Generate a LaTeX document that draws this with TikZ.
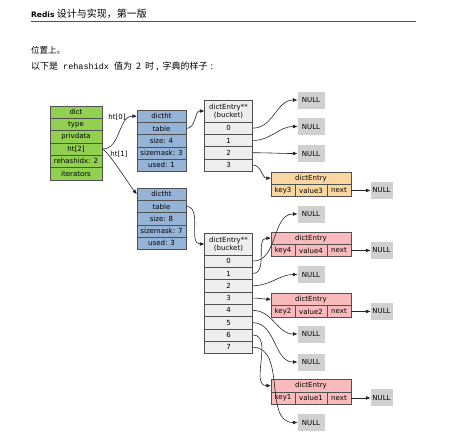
\documentclass[tikz,border=0pt]{standalone}
\usepackage{fontspec}
\setmainfont{DejaVu Sans}
\setmonofont{Liberation Mono}
\newfontfamily\cjk{Noto Sans CJK SC}
\usepackage{tikz}
\usetikzlibrary{arrows.meta, positioning, calc}

\definecolor{dictgreen}{RGB}{146,208,80}
\definecolor{htblue}{RGB}{149,179,215}
\definecolor{bucketgray}{RGB}{238,238,238}
\definecolor{nullgray}{RGB}{208,208,208}
\definecolor{entryorange}{RGB}{250,214,160}
\definecolor{entrypink}{RGB}{248,186,186}
\definecolor{linegray}{RGB}{80,80,80}

\tikzset{
  cell/.style={draw=linegray, line width=0.5pt, minimum height=12.3pt, inner sep=0pt, font=\fontsize{7}{8}\selectfont},
  dictcell/.style={cell, fill=dictgreen, minimum width=52pt},
  htcell/.style={cell, fill=htblue, minimum width=49pt},
  bucketcell/.style={cell, fill=bucketgray, minimum width=48pt},
  buckethead/.style={bucketcell, minimum height=22pt, align=center},
  nullbox/.style={fill=nullgray, minimum width=27pt, minimum height=17pt, inner sep=0pt, font=\fontsize{7}{8}\selectfont},
  ptr/.style={-{Triangle[length=4.5pt, width=3.5pt]}, line width=0.6pt, black!85},
  edgelabel/.style={font=\fontsize{7}{8}\selectfont},
}

\begin{document}
\begin{tikzpicture}[x=1pt, y=-1pt]
\useasboundingbox (0,0) rectangle (459,442);

% Page text
\node[anchor=west, inner sep=0pt] (title) at (31,14) {\fontsize{7.5}{9}\selectfont\textbf{Redis} {\cjk\fontsize{10}{11}\selectfont 设计与实现，第一版}};
\draw[linegray, line width=0.8pt] (31,21) -- (416,21);
\node[anchor=west, inner sep=0pt, font=\cjk\fontsize{8.5}{10}\selectfont] (para1) at (31,50) {位置上。};
\node[anchor=west, inner sep=0pt, font=\cjk\fontsize{9}{10}\selectfont] (para2) at (31,67) {以下是\hspace{5pt}{\fontsize{8.5}{10}\selectfont\texttt{rehashidx}}\hspace{5pt}值为\hspace{4pt}2\hspace{4pt}时\hspace{2pt},\hspace{4pt}字典的样子\hspace{3pt}:};

% dict
\foreach \txt [count=\i from 0] in {dict, type, privdata, ht[2], rehashidx: 2, iterators}
  \node[dictcell] (d\i) at (76, {112.15+12.3*\i}) {\txt};

% dictht
\foreach \txt [count=\i from 0] in {dictht, table, size: 4, sizemask: 3, used: 1}
  \node[htcell] (ha\i) at (161.5, {116.15+12.3*\i}) {\txt};
\foreach \txt [count=\i from 0] in {dictht, table, size: 8, sizemask: 7, used: 3}
  \node[htcell] (hb\i) at (161.5, {194.15+12.3*\i}) {\txt};

% buckets
\node[buckethead] (ba) at (228.5, 111) {dictEntry**\\(bucket)};
\foreach \i in {0,...,3}
  \node[bucketcell] (ba\i) at (228.5, {128.15+12.3*\i}) {\i};
\node[buckethead] (bb) at (228.5, 244) {dictEntry**\\(bucket)};
\foreach \i in {0,...,7}
  \node[bucketcell] (bb\i) at (228.5, {261.15+12.3*\i}) {\i};

% dict entries
\foreach \keytxt/\valtxt/\ename/\ytop/\col in {key3/value3/ea/172/entryorange, key4/value4/eb/232/entrypink, key2/value2/ec/293/entrypink, key1/value1/ed/379.5/entrypink} {
  \node[cell, fill=\col, minimum width=80pt] (\ename) at (311, {\ytop+6.15}) {dictEntry};
  \node[cell, fill=\col, minimum width=24pt] (\ename-key) at (283, {\ytop+18.45}) {\keytxt};
  \node[cell, fill=\col, minimum width=32pt] (\ename-val) at (311, {\ytop+18.45}) {\valtxt};
  \node[cell, fill=\col, minimum width=24pt] (\ename-next) at (339, {\ytop+18.45}) {next};
  \node[nullbox, minimum width=22pt] (\ename-null) at (381.5, {\ytop+18.45}) {NULL};
  \draw[ptr] (\ename-next.east) -- (\ename-null.west);
}

% NULL slots
\node[nullbox] (na0) at (311, 100) {NULL};
\node[nullbox] (na1) at (311, 126.5) {NULL};
\node[nullbox] (na2) at (311, 153.5) {NULL};
\node[nullbox] (nb0) at (311, 214) {NULL};
\node[nullbox] (nb2) at (311, 274.5) {NULL};
\node[nullbox] (nb4) at (311, 334) {NULL};
\node[nullbox] (nb5) at (311, 362) {NULL};
\node[nullbox] (nb7) at (311, 422.5) {NULL};

% ht[2] pointers
\node[edgelabel] (lbl0) at (117, 117.5) {ht[0]};
\node[edgelabel] (lbl1) at (119, 154) {ht[1]};
\draw[ptr] (d3.east) to[out=0, in=180] (ha0.west);
\draw[ptr] (d3.east) .. controls +(6,2) and +(-8,-10) .. (hb0.west);

% table pointers
\draw[ptr] (ha1.east) to[out=0, in=180] (ba.west);
\draw[ptr] (hb1.east) to[out=0, in=180] (bb.west);

% bucket 0
\draw[ptr] (ba0.east) to[out=0, in=180] (na0.west);
\draw[ptr] (ba1.east) to[out=0, in=180] (na1.west);
\draw[ptr] (ba2.east) to[out=0, in=180] (na2.west);
\draw[ptr] (ba3.east) to[out=0, in=180] (ea.west);

% bucket 1
\draw[ptr] (bb0.east) to[out=0, in=180] (nb0.west);
\draw[ptr] (bb1.east) to[out=0, in=180] (eb.west);
\draw[ptr] (bb2.east) to[out=0, in=180] (nb2.west);
\draw[ptr] (bb3.east) to[out=0, in=180] (ec.west);
\draw[ptr] (bb4.east) to[out=0, in=180] (nb4.west);
\draw[ptr] (bb5.east) to[out=0, in=180] (nb5.west);
\draw[ptr] (bb6.east) to[out=0, in=180] (ed.west);
\draw[ptr] (bb7.east) to[out=0, in=180] (nb7.west);

\end{tikzpicture}
\end{document}
